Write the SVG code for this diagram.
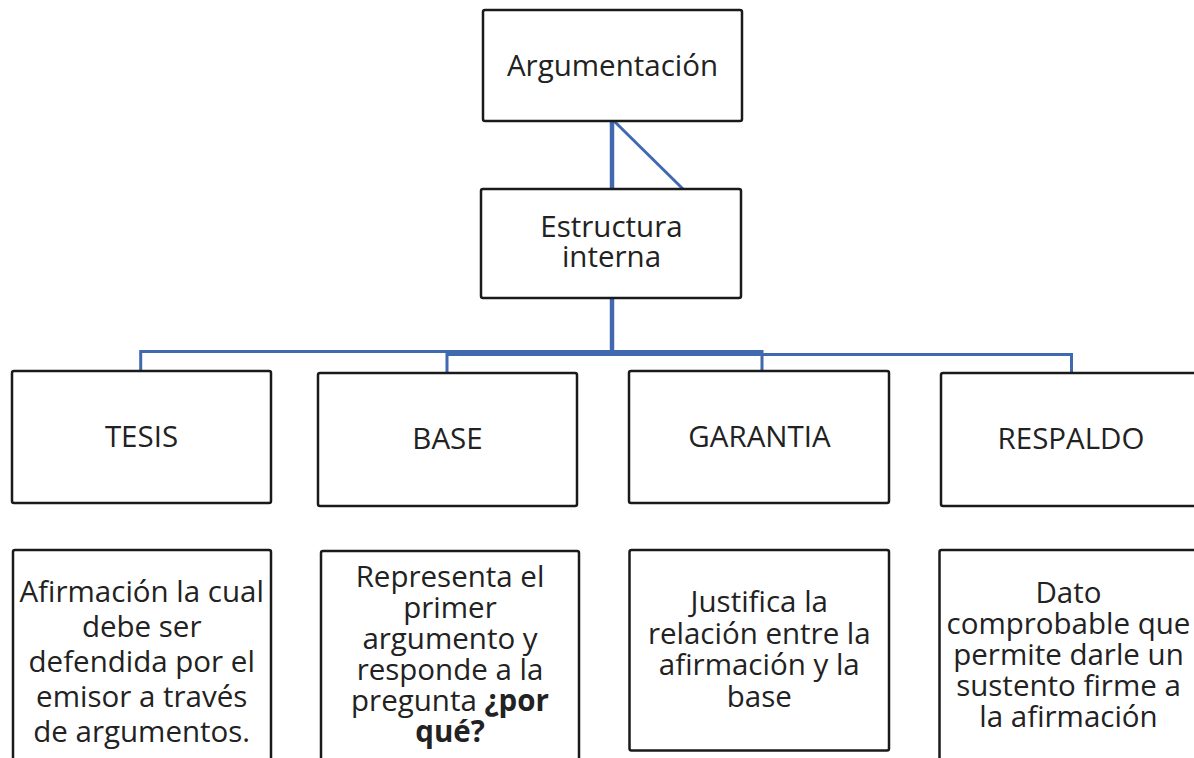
<svg xmlns="http://www.w3.org/2000/svg" width="1194" height="758" viewBox="0 0 1194 758">
<style>
.box{fill:#ffffff;stroke:#1a1a1a;stroke-width:2.5}
.t{font-family:"Open Sans","Noto Sans","Liberation Sans",sans-serif;fill:#222222;text-anchor:middle;font-size:29.5px}
.ln{fill:none;stroke:#4169b0;stroke-width:3}
.lk{fill:none;stroke:#4169b0;stroke-width:4.5}
</style>
<rect width="1194" height="758" fill="#ffffff"/>
<g id="connectors">
<line class="lk" x1="612" y1="121" x2="612" y2="189"/>
<line class="ln" x1="614" y1="121" x2="683" y2="189"/>
<line class="lk" x1="612" y1="298" x2="612" y2="355"/>
<path class="ln" d="M140.7,371 V351.5 H762 V371"/>
<path class="ln" d="M447,373 V354.5 H1071.5 V373"/>
</g>
<g id="argumentacion">
<rect class="box" x="483" y="10" width="259" height="111" rx="2"/>
<text class="t" x="612.5" y="76">Argumentación</text>
</g>
<g id="estructura">
<rect class="box" x="481" y="189" width="260" height="109" rx="2"/>
<text class="t" x="611.5" y="237">Estructura</text>
<text class="t" x="611.5" y="267">interna</text>
</g>
<g id="tesis">
<rect class="box" x="12" y="371" width="259" height="132" rx="2"/>
<text class="t" x="141.5" y="447">TESIS</text>
</g>
<g id="base">
<rect class="box" x="318" y="373" width="259" height="133" rx="2"/>
<text class="t" x="447.5" y="449">BASE</text>
</g>
<g id="garantia">
<rect class="box" x="629" y="371" width="260" height="132" rx="2"/>
<text class="t" x="759.5" y="447">GARANTIA</text>
</g>
<g id="respaldo">
<rect class="box" x="941" y="373" width="260" height="133" rx="2"/>
<text class="t" x="1071" y="449">RESPALDO</text>
</g>
<g id="tesis-desc">
<rect class="box" x="13" y="550" width="258" height="220" rx="2"/>
<text class="t" x="141.7" y="602">Afirmación la cual</text>
<text class="t" x="141.7" y="637">debe ser</text>
<text class="t" x="141.7" y="672">defendida por el</text>
<text class="t" x="141.7" y="707">emisor a través</text>
<text class="t" x="141.7" y="742">de argumentos.</text>
</g>
<g id="base-desc">
<rect class="box" x="321" y="551" width="258" height="220" rx="2"/>
<text class="t" x="450" y="587">Representa el</text>
<text class="t" x="450" y="618">primer</text>
<text class="t" x="450" y="649">argumento y</text>
<text class="t" x="450" y="680">responde a la</text>
<text class="t" x="450" y="711">pregunta <tspan font-weight="bold">¿por</tspan></text>
<text class="t" x="450" y="742" font-weight="bold">qué?</text>
</g>
<g id="garantia-desc">
<rect class="box" x="629.5" y="550" width="259.5" height="200.5" rx="2"/>
<text class="t" x="759.3" y="612">Justifica la</text>
<text class="t" x="759.3" y="643.5">relación entre la</text>
<text class="t" x="759.3" y="675">afirmación y la</text>
<text class="t" x="759.3" y="706.5">base</text>
</g>
<g id="respaldo-desc">
<rect class="box" x="939.5" y="550" width="260" height="220" rx="2"/>
<text class="t" x="1068.5" y="603">Dato</text>
<text class="t" x="1068.5" y="634">comprobable que</text>
<text class="t" x="1068.5" y="665">permite darle un</text>
<text class="t" x="1068.5" y="696">sustento firme a</text>
<text class="t" x="1068.5" y="727">la afirmación</text>
</g>
</svg>
